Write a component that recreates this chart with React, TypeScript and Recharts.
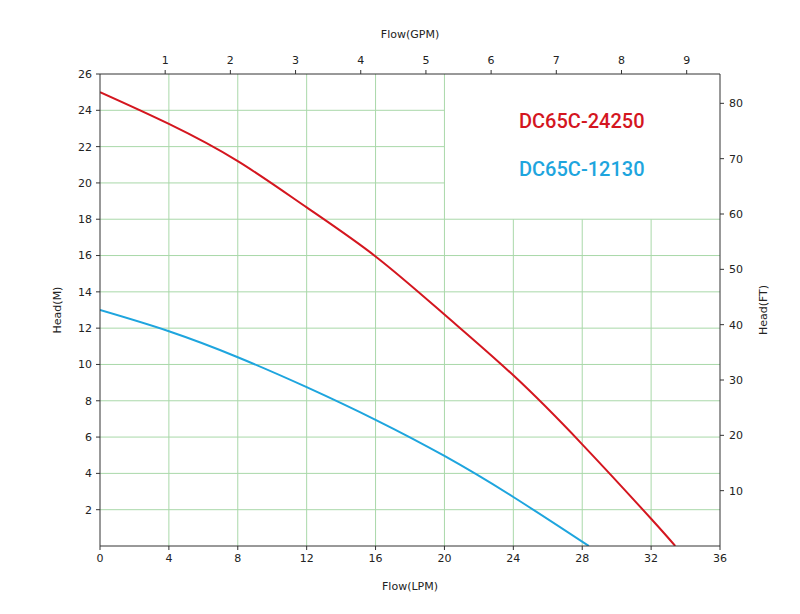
import React from 'react';
import {
  ComposedChart,
  Line,
  XAxis,
  YAxis,
  ReferenceLine,
} from 'recharts';

// flow in LPM, head in metres
const pump24250 = [
  { lpm: 0, head: 25 },
  { lpm: 4, head: 23.25 },
  { lpm: 8, head: 21.2 },
  { lpm: 12, head: 18.65 },
  { lpm: 16, head: 15.95 },
  { lpm: 20, head: 12.75 },
  { lpm: 24, head: 9.4 },
  { lpm: 28, head: 5.6 },
  { lpm: 32, head: 1.5 },
  { lpm: 33.4, head: 0 },
];

const pump12130 = [
  { lpm: 0, head: 13 },
  { lpm: 4, head: 11.83 },
  { lpm: 8, head: 10.4 },
  { lpm: 12, head: 8.75 },
  { lpm: 16, head: 6.95 },
  { lpm: 20, head: 4.96 },
  { lpm: 24, head: 2.7 },
  { lpm: 28.38, head: 0 },
];

const lpmTicks = [0, 4, 8, 12, 16, 20, 24, 28, 32, 36];
const gpmTicks = [1, 2, 3, 4, 5, 6, 7, 8, 9];
const meterTicks = [2, 4, 6, 8, 10, 12, 14, 16, 18, 20, 22, 24, 26];
const feetTicks = [10, 20, 30, 40, 50, 60, 70, 80];

const LPM_PER_GPM = 3.785;
const M_PER_FT = 0.3048;

// the legend box sits in the upper right corner, grid stops at its edge
const boxLeft = 20;
const boxBottom = 18;

const GRID = '#a9d8a9';
const AXIS = '#333';
const RED = '#d4161f';
const BLUE = '#1ea5de';

const tickStyle = { fill: '#222', fontSize: 11, fontFamily: 'DejaVu Sans' };

// same curve in GPM / FT, only so the top and right axes have a series
const imperial = pump24250.map((p) => ({ gpm: p.lpm / LPM_PER_GPM, ft: p.head / M_PER_FT }));

const App: React.FC = () => {
  const vLines = lpmTicks.filter((t) => t > 0 && t < 36);
  const hLines = meterTicks.filter((t) => t < 26);

  return (
    <div style={{ position: 'absolute', left: 0, top: 0, width: 800, height: 614, background: '#fff' }}>
      <ComposedChart width={800} height={614} margin={{ top: 44, right: 20, bottom: 38, left: 40 }}>
        <XAxis
          xAxisId="lpm"
          type="number"
          dataKey="lpm"
          domain={[0, 36]}
          ticks={lpmTicks}
          height={30}
          stroke={AXIS}
          tickSize={4}
          tickMargin={4}
          tick={tickStyle}
          allowDataOverflow
        />
        <XAxis
          xAxisId="gpm"
          orientation="top"
          type="number"
          dataKey="gpm"
          domain={[0, 36 / LPM_PER_GPM]}
          ticks={gpmTicks}
          height={30}
          stroke={AXIS}
          tickSize={4}
          tickMargin={6}
          tick={tickStyle}
          allowDataOverflow
        />
        <YAxis
          yAxisId="m"
          type="number"
          domain={[0, 26]}
          ticks={meterTicks}
          width={60}
          stroke={AXIS}
          tickSize={4}
          tickMargin={4}
          tick={tickStyle}
          allowDataOverflow
        />
        <YAxis
          yAxisId="ft"
          orientation="right"
          type="number"
          domain={[0, 26 / M_PER_FT]}
          ticks={feetTicks}
          width={60}
          stroke={AXIS}
          tickSize={4}
          tickMargin={5}
          tick={tickStyle}
          allowDataOverflow
        />

        {vLines.map((x) => (
          <ReferenceLine
            key={'v' + x}
            xAxisId="lpm"
            yAxisId="m"
            segment={[{ x, y: 0 }, { x, y: x > boxLeft ? boxBottom : 26 }]}
            stroke={GRID}
            strokeWidth={1}
          />
        ))}
        {hLines.map((y) => (
          <ReferenceLine
            key={'h' + y}
            xAxisId="lpm"
            yAxisId="m"
            segment={[{ x: 0, y }, { x: y > boxBottom ? boxLeft : 36, y }]}
            stroke={GRID}
            strokeWidth={1}
          />
        ))}

        <Line
          xAxisId="gpm"
          yAxisId="ft"
          data={imperial}
          dataKey="ft"
          stroke="none"
          dot={false}
          activeDot={false}
          isAnimationActive={false}
        />
        <Line
          xAxisId="lpm"
          yAxisId="m"
          data={pump24250}
          dataKey="head"
          type="natural"
          stroke={RED}
          strokeWidth={2}
          dot={false}
          isAnimationActive={false}
        />
        <Line
          xAxisId="lpm"
          yAxisId="m"
          data={pump12130}
          dataKey="head"
          type="natural"
          stroke={BLUE}
          strokeWidth={2}
          dot={false}
          isAnimationActive={false}
        />
      </ComposedChart>

      <svg
        width={800}
        height={614}
        style={{ position: 'absolute', left: 0, top: 0, pointerEvents: 'none' }}
      >
        <g fontFamily="DejaVu Sans" fontSize={11} fill="#222" textAnchor="middle">
          <text x={410} y={38}>Flow(GPM)</text>
          <text x={410} y={590}>Flow(LPM)</text>
          <text x={61} y={310} transform="rotate(-90 61 310)">Head(M)</text>
          <text x={767} y={310} transform="rotate(-90 767 310)">Head(FT)</text>
        </g>
        <g fontFamily="Roboto" fontSize={20} fontWeight={500}>
          <text x={519} y={127.5} fill={RED}>DC65C-24250</text>
          <text x={519} y={176} fill={BLUE}>DC65C-12130</text>
        </g>
      </svg>
    </div>
  );
};

export default App;
